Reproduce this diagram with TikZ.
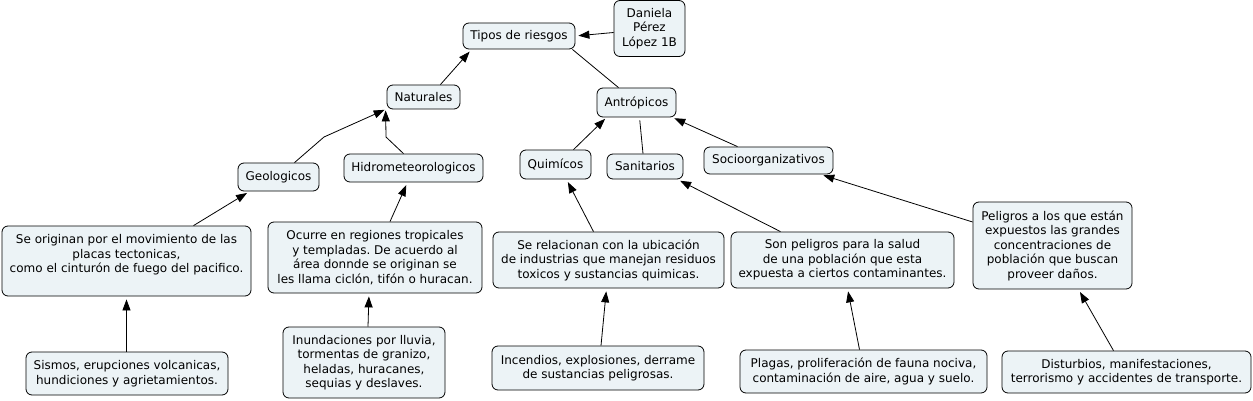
\documentclass[tikz,border=0pt]{standalone}
\usepackage{fontspec}
\setmainfont{DejaVu Sans}
\usetikzlibrary{arrows.meta}
\frenchspacing

\begin{document}
\begin{tikzpicture}[x=1pt, y=-1pt, >={Triangle[length=11pt, width=8pt]},
  concept/.style={draw, line width=0.8pt, rounded corners=6pt, fill=conceptfill,
    align=center, inner sep=0pt, font=\fontsize{12}{14.5}\selectfont},
  link/.style={->, line width=0.8pt, shorten >=3pt},
  plain/.style={line width=0.8pt}]

\definecolor{conceptfill}{RGB}{236, 243, 246}

\useasboundingbox (0,0) rectangle (1253,401);

% top of the map
\node[concept, minimum width=112, minimum height=26] (tipos) at (519,36) {Tipos de riesgos};
\node[concept, minimum width=71, minimum height=56] (dan) at (649.5,28.5) {Daniela\\ Pérez\\ López 1B};
\node[concept, minimum width=73, minimum height=24] (nat) at (423.5,97) {Naturales};
\node[concept, minimum width=79, minimum height=29] (antro) at (636.5,102.5) {Antrópicos};

% second level
\node[concept, minimum width=81, minimum height=28] (geo) at (278.5,177) {Geologicos};
\node[concept, minimum width=139, minimum height=28] (hidro) at (413.5,168) {Hidrometeorologicos};
\node[concept, minimum width=71, minimum height=29] (qui) at (555.5,164.5) {Quimícos};
\node[concept, minimum width=76, minimum height=25] (san) at (645,166.5) {Sanitarios};
\node[concept, minimum width=129, minimum height=27] (socio) at (768.5,160.5) {Socioorganizativos};

% descriptions
\node[concept, minimum width=249, minimum height=70] (orig) at (126.5,261)
  {Se originan por el movimiento de las\\ placas tectonicas,\\ como el cinturón de fuego del pacifico.\\ \mbox{}};
\node[concept, minimum width=214, minimum height=71] (ocurre) at (375,257.5)
  {Ocurre en regiones tropicales\\ y templadas. De acuerdo al\\ área donnde se originan se\\ les llama ciclón, tifón o huracan.};
\node[concept, minimum width=231, minimum height=56] (relac) at (608.5,260)
  {Se relacionan con la ubicación\\ de industrias que manejan residuos\\ toxicos y sustancias quimicas.};
\node[concept, minimum width=223, minimum height=56] (sonp) at (842.5,260)
  {Son peligros para la salud\\ de una población que esta\\ expuesta a ciertos contaminantes.};
\node[concept, minimum width=159, minimum height=87] (peli) at (1052.5,245.5)
  {Peligros a los que están\\ expuestos las grandes\\ concentraciones de\\ población que buscan\\ proveer daños.};

% examples
\node[concept, minimum width=202, minimum height=43] (sismos) at (127,373.5)
  {Sismos, erupciones volcanicas,\\ hundiciones y agrietamientos.};
\node[concept, minimum width=162, minimum height=71] (inund) at (364,362.5)
  {Inundaciones por lluvia,\\ tormentas de granizo,\\ heladas, huracanes,\\ sequias y deslaves.};
\node[concept, minimum width=212, minimum height=44] (incend) at (598,368)
  {Incendios, explosiones, derrame\\ de sustancias peligrosas.};
\node[concept, minimum width=247, minimum height=43] (plagas) at (863.5,371.5)
  {Plagas, proliferación de fauna nociva,\\ contaminación de aire, agua y suelo.};
\node[concept, minimum width=249, minimum height=42] (dist) at (1126.5,372)
  {Disturbios, manifestaciones,\\ terrorismo y accidentes de transporte.};

% linking points
\coordinate (gn) at (324,137);
\coordinate (hn) at (386,137);

% connectors
\draw[link] ([yshift=-4pt]dan.west) -- (tipos.east);
\draw[link] ([xshift=-20pt]nat.north east) -- ([xshift=9pt]tipos.south west);
\draw[plain] ([xshift=-3pt]tipos.south east) -- ([xshift=-18pt]antro.north);
\draw[link, shorten >=1pt] ([xshift=16pt]geo.north) -- (gn) -- ([xshift=-1pt]nat.south west);
\draw[link, shorten >=1pt] ([xshift=-10pt]hidro.north) -- (hn) -- ([xshift=-1pt]nat.south west);
\draw[link, shorten >=2pt] ([xshift=18pt]qui.north) -- ([xshift=10pt]antro.south west);
\draw[plain, shorten >=3pt] ([xshift=-2pt]san.north) -- ([xshift=3pt]antro.south);
\draw[link, shorten >=2pt] ([xshift=-31pt]socio.north) -- ([xshift=-4pt]antro.south east);
\draw[link] ([xshift=67pt]orig.north) -- ([xshift=12pt]geo.south west);
\draw[link] ([xshift=15pt]ocurre.north) -- ([xshift=-6pt]hidro.south);
\draw[link] ([xshift=-15pt]relac.north) -- ([xshift=11pt]qui.south);
\draw[link] ([xshift=-62pt]sonp.north) -- ([xshift=-6pt]san.south east);
\draw[link] ([yshift=23.5pt]peli.west) -- ([xshift=-13pt]socio.south east);
\draw[link] ([xshift=-0.5pt]sismos.north) -- (orig.south);
\draw[link] ([xshift=4pt]inund.north) -- ([xshift=-6pt]ocurre.south);
\draw[link] ([xshift=3pt]incend.north) -- ([xshift=-2pt]relac.south);
\draw[link] ([xshift=-4pt]plagas.north) -- ([xshift=5pt]sonp.south);
\draw[link] ([xshift=-13pt]dist.north) -- ([xshift=26pt]peli.south);

\end{tikzpicture}
\end{document}
